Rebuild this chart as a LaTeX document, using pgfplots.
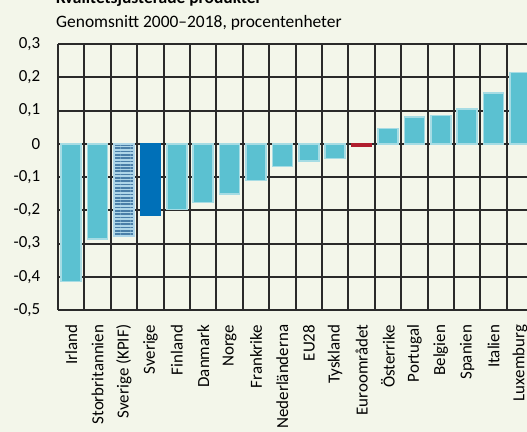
\documentclass[border=0pt]{standalone}
\usepackage{pgfplots}
\pgfplotsset{compat=1.18}
\usepackage{fontspec}
\setmainfont{Carlito}
\usetikzlibrary{patterns.meta}
\definecolor{bgc}{HTML}{F3F6EA}
\definecolor{lb}{HTML}{5BC1D1}
\definecolor{lbedge}{HTML}{A6DCE4}
\definecolor{db}{HTML}{0070B8}
\definecolor{kd}{HTML}{4A7FA8}
\definecolor{kl}{HTML}{AED6E8}
\definecolor{rd}{HTML}{B01E2E}
\definecolor{gridc}{HTML}{2A2A2A}
\begin{document}
\fontsize{17}{20}\selectfont
\begin{tikzpicture}
\fill[bgc] (0bp,0bp) rectangle (527bp,432bp);
\node[anchor=base west,inner sep=0pt,font=\fontsize{17.5}{20}\selectfont\bfseries] at (56bp,428bp) {Kvalitetsjusterade produkter};
\node[anchor=base west,inner sep=0pt,font=\fontsize{17.5}{20}\selectfont] at (56bp,404bp) {Genomsnitt 2000–2018, procentenheter};
\begin{axis}[
  at={(58bp,122bp)}, anchor=south west,
  scale only axis, width=475.2bp, height=266bp,
  xmin=-0.5, xmax=17.5, ymin=-0.5, ymax=0.3,
  ybar, bar width=20bp, bar shift=0pt,
  axis x line*=bottom, axis y line*=left,
  axis line style={draw=gridc, line width=2bp},
  xtick={0,...,17},
  xticklabels={Irland,Storbritannien,Sverige (KPIF),Sverige,Finland,Danmark,Norge,Frankrike,Nederländerna,EU28,Tyskland,Euroområdet,Österrike,Portugal,Belgien,Spanien,Italien,Luxemburg},
  minor xtick={0.5,1.5,...,16.5},
  xminorgrids=true, xmajorgrids=false, ymajorgrids=true,
  major grid style={draw=gridc, line width=2bp},
  minor grid style={draw=gridc, line width=2bp},
  major tick length=0pt, minor tick length=0pt,
  ytick={-0.5,-0.4,...,0.3},
  yticklabels={{-0,5},{-0,4},{-0,3},{-0,2},{-0,1},{0},{0,1},{0,2},{0,3}},
  yticklabel style={font=\fontsize{17}{20}\selectfont, anchor=east, xshift=-12bp},
  xticklabel style={font=\fontsize{17}{20}\selectfont, rotate=90, anchor=east, xshift=-9bp},
]
\addplot[fill=lb, draw=lbedge, line width=1.5bp] coordinates {
 (0,-0.415) (1,-0.286) (4,-0.197) (5,-0.176) (6,-0.151) (7,-0.110) (8,-0.069) (9,-0.052) (10,-0.045)
 (12,0.046) (13,0.080) (14,0.085) (15,0.105) (16,0.152) (17,0.214)};
\addplot[fill=kl, draw=kl, line width=1.5bp, postaction={pattern={Lines[angle=0,distance=3.3bp,line width=1.7bp]}, pattern color=kd}] coordinates {(2,-0.279)};
\addplot[fill=db, draw=db, line width=1bp] coordinates {(3,-0.216)};
\addplot[fill=rd, draw=rd, line width=1bp] coordinates {(11,-0.007)};
\end{axis}
\pgfresetboundingbox
\path[use as bounding box] (0bp,0bp) rectangle (527bp,432bp);
\end{tikzpicture}
\end{document}
